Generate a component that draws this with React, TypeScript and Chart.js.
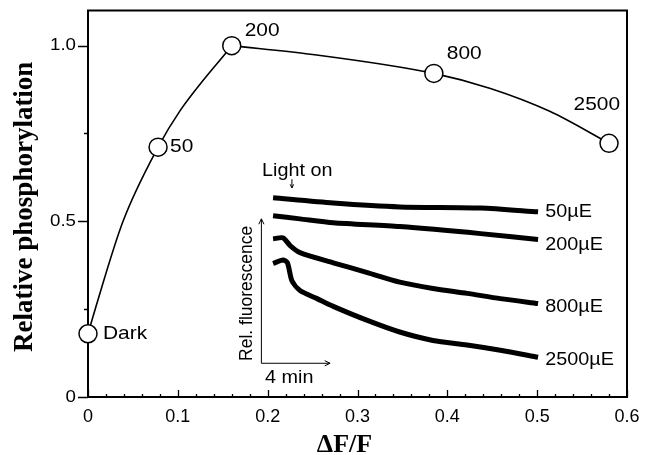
import React, { useEffect, useRef } from "react";
import { Chart, registerables } from "chart.js";

Chart.register(...registerables);

// ---- axis ticks ----
const X_TICKS = [0, 0.1, 0.2, 0.3, 0.4, 0.5, 0.6];
const X_TICK_LABELS = ["0", "0.1", "0.2", "0.3", "0.4", "0.5", "0.6"];
const Y_TICKS = [0, 0.5, 1.0];
const Y_TICK_LABELS = ["0", "0.5", "1.0"];
const Y_MINOR_TICKS = [0.25, 0.75];

// ---- measured points (light intensity labels) ----
const POINT_LABELS = ["Dark", "50", "200", "800", "2500"];
const POINT_X = [0, 0.078, 0.16, 0.385, 0.58];
const POINT_Y = [0.18, 0.711, 1.0, 0.921, 0.722];

// ---- hand-drawn curve through the points ----
const RISE_X = [0, 0.008, 0.039, 0.078, 0.102, 0.16];
const RISE_Y = [0.18, 0.25, 0.5, 0.711, 0.813, 1.0];
const FALL_X = [0.16, 0.25, 0.385, 0.448, 0.514, 0.58];
const FALL_Y = [1.0, 0.975, 0.921, 0.878, 0.813, 0.722];

// ---- inset fluorescence traces ----
const TRACE_LABELS = ["50\u00B5E", "200\u00B5E", "800\u00B5E", "2500\u00B5E"];
const TRACE_50_X = [0.206, 0.273, 0.347, 0.437, 0.501];
const TRACE_50_Y = [0.567, 0.552, 0.541, 0.538, 0.527];
const TRACE_200_X = [0.206, 0.236, 0.273, 0.347, 0.437, 0.501];
const TRACE_200_Y = [0.516, 0.507, 0.496, 0.485, 0.465, 0.448];
const TRACE_800_X = [0.206, 0.217, 0.225, 0.236, 0.273, 0.311, 0.347, 0.384, 0.422, 0.459, 0.501];
const TRACE_800_Y = [0.45, 0.453, 0.431, 0.411, 0.382, 0.354, 0.327, 0.309, 0.295, 0.28, 0.266];
const TRACE_2500_X = [0.206, 0.217, 0.222, 0.227, 0.236, 0.255, 0.273, 0.311, 0.347, 0.384, 0.422, 0.459, 0.501];
const TRACE_2500_Y = [0.38, 0.39, 0.382, 0.331, 0.303, 0.28, 0.258, 0.218, 0.185, 0.161, 0.148, 0.133, 0.113];
const TRACE_LABEL_Y = [0.527, 0.433, 0.255, 0.105];
const TRACE_LABEL_X = 0.509;

const SANS = '"Liberation Sans", Arial, Helvetica, sans-serif';
const SERIF = '"Liberation Serif", "Times New Roman", serif';

// label offsets (px) relative to each point: [dx, dy, align]
const POINT_LABEL_OFFSETS: [number, number, CanvasTextAlign][] = [
  [15, 0, "left"],
  [12, 0, "left"],
  [13, -15, "left"],
  [13, -19, "left"],
  [11, -38, "right"],
];

const pts = (xs: number[], ys: number[]) => xs.map((x, i) => ({ x, y: ys[i] }));

function txt(
  ctx: CanvasRenderingContext2D,
  s: string,
  x: number,
  y: number,
  o: { size: number; align?: CanvasTextAlign; serif?: boolean; bold?: boolean; sx?: number; rot?: number }
) {
  ctx.save();
  ctx.translate(x, y);
  if (o.rot) ctx.rotate(o.rot);
  ctx.scale(o.sx ?? 1, 1);
  ctx.font = `${o.bold ? "bold " : ""}${o.size}px ${o.serif ? SERIF : SANS}`;
  ctx.textAlign = o.align ?? "left";
  ctx.textBaseline = "middle";
  ctx.fillStyle = "#000";
  ctx.fillText(s, 0, 0);
  ctx.restore();
}

function arrow(ctx: CanvasRenderingContext2D, x1: number, y1: number, x2: number, y2: number, head = 6) {
  const a = Math.atan2(y2 - y1, x2 - x1);
  ctx.save();
  ctx.strokeStyle = "#000";
  ctx.lineWidth = 1;
  ctx.beginPath();
  ctx.moveTo(x1, y1);
  ctx.lineTo(x2, y2);
  ctx.moveTo(x2 - head * Math.cos(a - 0.45), y2 - head * Math.sin(a - 0.45));
  ctx.lineTo(x2, y2);
  ctx.lineTo(x2 - head * Math.cos(a + 0.45), y2 - head * Math.sin(a + 0.45));
  ctx.stroke();
  ctx.restore();
}

const overlay = {
  id: "overlay",
  beforeDatasetsDraw(chart: any) {
    const { ctx, chartArea: ca } = chart;
    const xs = chart.scales.x;
    const ys = chart.scales.y;
    ctx.save();
    ctx.strokeStyle = "#000";
    ctx.lineWidth = 2;
    ctx.strokeRect(ca.left, ca.top, ca.right - ca.left, ca.bottom - ca.top);
    ctx.lineWidth = 1.3;
    ctx.beginPath();
    // x ticks: inward, minor every 0.02
    for (let i = 0; i <= 30; i++) {
      const px = Math.round(xs.getPixelForValue(i * 0.02)) + 0.5;
      const len = i % 5 === 0 ? 7 : 3;
      ctx.moveTo(px, ca.bottom);
      ctx.lineTo(px, ca.bottom - len);
    }
    // y ticks: outward
    Y_TICKS.forEach((v) => {
      const py = Math.round(ys.getPixelForValue(v)) + 0.5;
      ctx.moveTo(ca.left, py);
      ctx.lineTo(ca.left - 10, py);
    });
    Y_MINOR_TICKS.forEach((v) => {
      const py = Math.round(ys.getPixelForValue(v)) + 0.5;
      ctx.moveTo(ca.left, py);
      ctx.lineTo(ca.left - 4, py);
    });
    ctx.stroke();
    ctx.restore();
  },
  afterDraw(chart: any) {
    const { ctx, chartArea: ca } = chart;
    const xs = chart.scales.x;
    const ys = chart.scales.y;
    const X = (v: number) => xs.getPixelForValue(v);
    const Y = (v: number) => ys.getPixelForValue(v);

    // tick labels
    X_TICKS.forEach((v, i) => txt(ctx, X_TICK_LABELS[i], X(v), ca.bottom + 20, { size: 18, align: "center" }));
    Y_TICKS.forEach((v, i) => txt(ctx, Y_TICK_LABELS[i], ca.left - 12, Y(v), { size: 17, align: "right", sx: 1.1 }));

    // axis titles
    txt(ctx, "\u0394F/F", (ca.left + ca.right) / 2 - 13, ca.bottom + 48, { size: 26, align: "center", serif: true, bold: true });
    txt(ctx, "Relative phosphorylation", 25, (ca.top + ca.bottom) / 2 + 3, {
      size: 27,
      align: "center",
      serif: true,
      bold: true,
      rot: -Math.PI / 2,
    });

    // point labels
    POINT_LABELS.forEach((s, i) => {
      const [dx, dy, al] = POINT_LABEL_OFFSETS[i];
      txt(ctx, s, X(POINT_X[i]) + dx, Y(POINT_Y[i]) + dy, { size: 18.5, align: al, sx: 1.13 });
    });

    // inset annotations
    TRACE_LABELS.forEach((s, i) => txt(ctx, s, X(TRACE_LABEL_X), Y(TRACE_LABEL_Y[i]), { size: 18, sx: 1.1 }));
    const ox = X(0.193);
    const oy = Y(0.096);
    arrow(ctx, ox, oy, ox, Y(0.507));
    arrow(ctx, ox, oy, X(0.2695), oy);
    txt(ctx, "Rel. fluorescence", X(0.177), Y(0.295), { size: 17.5, align: "center", rot: -Math.PI / 2 });
    txt(ctx, "4 min", X(0.224), Y(0.054), { size: 18, align: "center", sx: 1.1 });
    txt(ctx, "Light on", X(0.233), Y(0.643), { size: 18, align: "center", sx: 1.1 });
    arrow(ctx, X(0.227), Y(0.62), X(0.227), Y(0.595), 4);
  },
};

const traceDs = (xs: number[], ys: number[]) => ({
  data: pts(xs, ys),
  borderColor: "#000",
  borderWidth: 5,
  pointRadius: 0,
  tension: 0.25,
  fill: false,
});

const curveDs = (xs: number[], ys: number[]) => ({
  data: pts(xs, ys),
  borderColor: "#000",
  borderWidth: 1.6,
  pointRadius: 0,
  cubicInterpolationMode: "monotone" as const,
  fill: false,
});

export default function App() {
  const ref = useRef<HTMLCanvasElement | null>(null);
  useEffect(() => {
    document.body.style.margin = "0";
    const canvas = ref.current!;
    const chart = new Chart(canvas, {
      type: "line",
      data: {
        datasets: [
          {
            data: pts(POINT_X, POINT_Y),
            showLine: false,
            pointRadius: 9,
            pointBackgroundColor: "#fff",
            pointBorderColor: "#000",
            pointBorderWidth: 1.5,
            clip: false,
          } as any,
          curveDs(RISE_X, RISE_Y),
          curveDs(FALL_X, FALL_Y),
          traceDs(TRACE_50_X, TRACE_50_Y),
          traceDs(TRACE_200_X, TRACE_200_Y),
          traceDs(TRACE_800_X, TRACE_800_Y),
          traceDs(TRACE_2500_X, TRACE_2500_Y),
        ],
      },
      options: {
        animation: false,
        responsive: false,
        maintainAspectRatio: false,
        events: [],
        layout: { padding: { top: 10, right: 26, left: 0, bottom: 0 } },
        plugins: { legend: { display: false }, tooltip: { enabled: false } },
        scales: {
          x: {
            type: "linear",
            min: 0,
            max: 0.6,
            grid: { display: false },
            border: { display: false },
            ticks: { display: false },
            afterFit: (s: any) => {
              s.height = 58;
            },
          },
          y: {
            type: "linear",
            min: 0,
            max: 1.1,
            grid: { display: false },
            border: { display: false },
            ticks: { display: false },
            afterFit: (s: any) => {
              s.width = 88;
            },
          },
        },
      },
      plugins: [overlay],
    });
    return () => chart.destroy();
  }, []);
  return (
    <div style={{ width: 653, height: 455, background: "#fff" }}>
      <canvas ref={ref} width={653} height={455} style={{ display: "block" }} />
    </div>
  );
}
